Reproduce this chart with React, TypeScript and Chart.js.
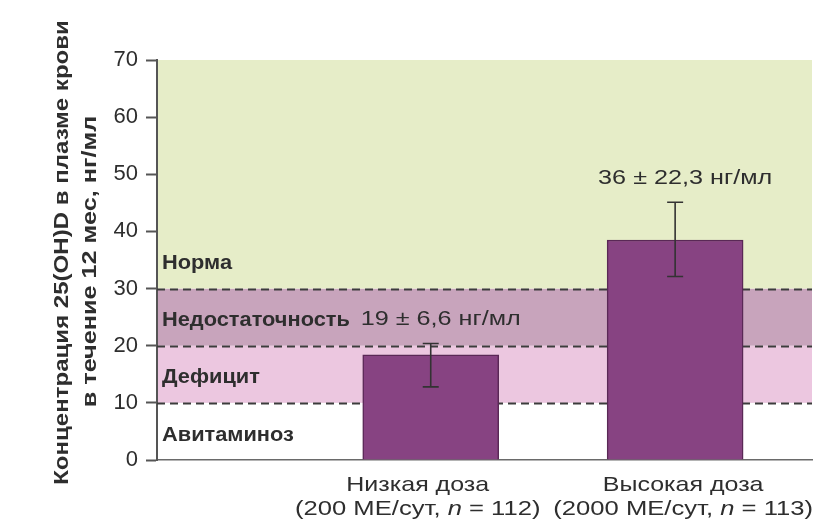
import React, { useEffect, useRef } from "react";
import { Chart, registerables } from "chart.js";

Chart.register(...registerables);

const categories = ["Низкая доза", "Высокая доза"];
const doses = ["200 МЕ/сут", "2000 МЕ/сут"];
const sampleSizes = [112, 113];
const means = [18.4, 38.5];
const errLow = [12.8, 32.1];
const errHigh = [20.4, 45.1];
const meanLabels = ["19 ± 6,6 нг/мл", "36 ± 22,3 нг/мл"];
const yTicks = [0, 10, 20, 30, 40, 50, 60, 70];
const bandLimits = [0, 10, 20, 30, 70];
const bandLabels = ["Авитаминоз", "Дефицит", "Недостаточность", "Норма"];
const yTitle = ["Концентрация 25(OH)D в плазме крови", "в течение 12 мес, нг/мл"];

const bandColors = ["#ffffff", "#ecc7e0", "#c8a4bc", "#e6edc8"];
const FONT = '"Liberation Sans", Arial, sans-serif';
const TEXT = "#2e2e2e";
const LABEL_SHIFT = [-13, 8];

// draws text horizontally stretched by sx around its anchor
function wideText(ctx: any, text: string, x: number, y: number, font: string, sx: number, align: string) {
  ctx.save();
  ctx.font = font;
  ctx.textAlign = align;
  ctx.textBaseline = "middle";
  ctx.translate(x, y);
  ctx.scale(sx, 1);
  ctx.fillText(text, 0, 0);
  ctx.restore();
}

const decorPlugin = {
  id: "decor",
  beforeDraw(chart: any) {
    const { ctx, chartArea } = chart;
    const y = chart.scales.y;
    ctx.save();
    for (let i = 0; i < bandLabels.length; i++) {
      const top = y.getPixelForValue(bandLimits[i + 1]);
      const bot = y.getPixelForValue(bandLimits[i]);
      ctx.fillStyle = bandColors[i];
      ctx.fillRect(chartArea.left, top, chartArea.right - chartArea.left, bot - top);
    }
    ctx.restore();
  },
  beforeDatasetsDraw(chart: any) {
    const { ctx, chartArea } = chart;
    const y = chart.scales.y;
    ctx.save();
    ctx.strokeStyle = "#3c3c3c";
    ctx.lineWidth = 1.8;
    ctx.setLineDash([8, 5]);
    for (let i = 1; i < bandLimits.length - 1; i++) {
      const py = Math.round(y.getPixelForValue(bandLimits[i])) + 0.5;
      ctx.beginPath();
      ctx.moveTo(chartArea.left, py);
      ctx.lineTo(chartArea.right, py);
      ctx.stroke();
    }
    ctx.setLineDash([]);
    ctx.fillStyle = TEXT;
    for (let i = 0; i < bandLabels.length; i++) {
      const py = y.getPixelForValue(bandLimits[i]) - 25;
      wideText(ctx, bandLabels[i], chartArea.left + 5, py, `bold 20px ${FONT}`, 1.09, "left");
    }
    ctx.restore();
  },
  afterDatasetsDraw(chart: any) {
    const { ctx } = chart;
    const x = chart.scales.x;
    const y = chart.scales.y;
    ctx.save();
    ctx.strokeStyle = "#333";
    ctx.lineWidth = 1.6;
    ctx.fillStyle = TEXT;
    for (let i = 0; i < means.length; i++) {
      const px = x.getPixelForValue(i + 1);
      const yl = y.getPixelForValue(errLow[i]);
      const yh = y.getPixelForValue(errHigh[i]);
      ctx.beginPath();
      ctx.moveTo(px, yl);
      ctx.lineTo(px, yh);
      ctx.moveTo(px - 8, yl);
      ctx.lineTo(px + 8, yl);
      ctx.moveTo(px - 8, yh);
      ctx.lineTo(px + 8, yh);
      ctx.stroke();
      wideText(ctx, meanLabels[i], px + 10, yh - 24, `21px ${FONT}`, 1.2, "center");
    }
    // category labels
    const base = y.getPixelForValue(0);
    const SX1 = 1.19;
    const SX2 = 1.22;
    for (let i = 0; i < categories.length; i++) {
      const px = x.getPixelForValue(i + 1) + LABEL_SHIFT[i];
      wideText(ctx, categories[i], px, base + 25, `21px ${FONT}`, SX1, "center");
      const p1 = `(${doses[i]}, `;
      const p2 = "n";
      const p3 = ` = ${sampleSizes[i]})`;
      ctx.font = `21px ${FONT}`;
      const w1 = ctx.measureText(p1).width * SX2;
      const w3 = ctx.measureText(p3).width * SX2;
      ctx.font = `italic 21px ${FONT}`;
      const w2 = ctx.measureText(p2).width * SX2;
      let sx = px - (w1 + w2 + w3) / 2;
      wideText(ctx, p1, sx, base + 49, `21px ${FONT}`, SX2, "left");
      sx += w1;
      wideText(ctx, p2, sx, base + 49, `italic 21px ${FONT}`, SX2, "left");
      sx += w2;
      wideText(ctx, p3, sx, base + 49, `21px ${FONT}`, SX2, "left");
    }
    // y title
    ctx.save();
    ctx.rotate(-Math.PI / 2);
    wideText(ctx, yTitle[0], -252.5, 62, `bold 21px ${FONT}`, 1.145, "center");
    wideText(ctx, yTitle[1], -261.5, 90, `bold 21px ${FONT}`, 1.2, "center");
    ctx.restore();
    ctx.restore();
  },
};

export default function App() {
  const ref = useRef<HTMLCanvasElement>(null);
  useEffect(() => {
    if (!ref.current) return;
    const chart = new Chart(ref.current, {
      type: "bar",
      data: {
        datasets: [
          {
            data: means.map((v, i) => ({ x: i + 1, y: v })),
            backgroundColor: "#874382",
            borderColor: "#5a2856",
            borderWidth: 1.5,
            barThickness: 136,
          },
        ],
      },
      options: {
        animation: false,
        responsive: true,
        maintainAspectRatio: false,
        layout: { padding: { top: 60, right: 5, left: 0, bottom: 0 } },
        plugins: { legend: { display: false }, tooltip: { enabled: false } },
        scales: {
          x: {
            type: "linear",
            offset: false,
            min: -0.12,
            max: 2.56,
            grid: { display: false, drawTicks: false, offset: false },
            border: { display: true, color: "#6a6a6a", width: 1.5 },
            ticks: { display: false },
            afterFit(scale: any) {
              scale.height = 66;
            },
          },
          y: {
            min: 0,
            max: 70,
            afterBuildTicks(scale: any) {
              scale.ticks = yTicks.map((v) => ({ value: v }));
            },
            grid: {
              drawOnChartArea: false,
              drawTicks: true,
              tickLength: 11,
              tickWidth: 2,
              tickColor: "#555",
            },
            border: { display: true, color: "#555", width: 2 },
            ticks: {
              color: TEXT,
              font: { family: FONT, size: 22 },
              padding: 8,
            },
            afterFit(scale: any) {
              scale.width = 157;
            },
          },
        },
      },
      plugins: [decorPlugin],
    });
    return () => chart.destroy();
  }, []);
  return (
    <div style={{ position: "fixed", left: 0, top: 0, width: 817, height: 526 }}>
      <canvas ref={ref} />
    </div>
  );
}
